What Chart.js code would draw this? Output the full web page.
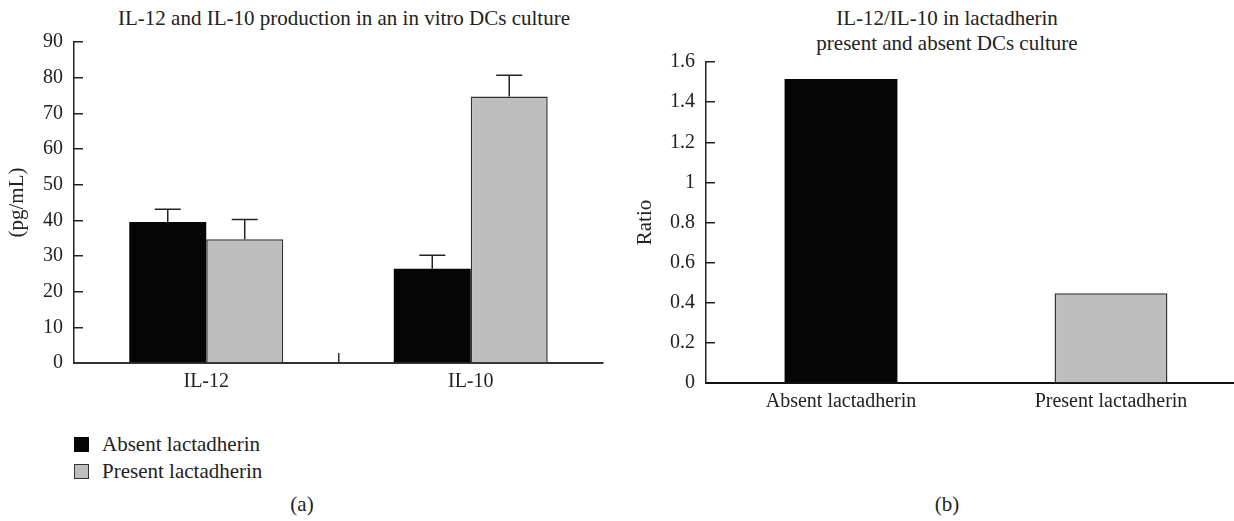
<!DOCTYPE html>
<html>
<head>
<meta charset="utf-8">
<title>IL-12 / IL-10 lactadherin</title>
<script src="https://cdn.jsdelivr.net/npm/chart.js@4"></script>
<style>
    html, body { margin: 0; padding: 0; background: #fff; overflow: hidden; }
    body { width: 1234px; height: 521px; position: relative; font-family: "Liberation Serif", serif; color: #222; }
    .panel { position: absolute; top: 0; height: 521px; overflow: hidden; }
    #panelA { left: 0; width: 620px; }
    #panelB { left: 620px; width: 614px; }
    canvas { position: absolute; left: 0; top: 0; }
    .txt { position: absolute; width: max-content; font-size: 21px; line-height: 25px; text-align: center; white-space: nowrap; transform: translateX(-50%); }
    .legend { position: absolute; left: 74px; top: 437px; font-size: 21px; }
    .legend .row { display: flex; align-items: center; height: 15px; margin-bottom: 12px; }
    .legend .box { width: 15px; height: 15px; box-sizing: border-box; margin-right: 13px; }
</style>
</head>
<body>
<div class="panel" id="panelA">
    <div class="txt" style="left:344px; top:6px;">IL-12 and IL-10 production in an in vitro DCs culture</div>
    <canvas id="chartA" width="620" height="400"></canvas>
    <div class="legend" id="legendA"></div>
    <div class="txt" style="left:302px; top:492px;">(a)</div>
</div>
<div class="panel" id="panelB">
    <div class="txt" style="left:327px; top:6px;">IL-12/IL-10 in lactadherin<br>present and absent DCs culture</div>
    <canvas id="chartB" width="626" height="420"></canvas>
    <div class="txt" style="left:327px; top:492px;">(b)</div>
</div>

<script>
// datos
const groups = ['IL-12', 'IL-10'];
const seriesNames = ['Absent lactadherin', 'Present lactadherin'];
const absentValues = [39.5, 26.4];
const presentValues = [34.7, 74.7];
const absentErrors = [3.6, 3.8];
const presentErrors = [5.5, 6.0];
const pgTicks = [0, 10, 20, 30, 40, 50, 60, 70, 80, 90];

const ratioLabels = ['Absent lactadherin', 'Present lactadherin'];
const ratioValues = [1.515, 0.447];
const ratioTicks = [0, 0.2, 0.4, 0.6, 0.8, 1, 1.2, 1.4, 1.6];

(function () {
    'use strict';

    const ink = '#222';
    const black = '#050505';
    const grey = '#bebebe';
    const seriesColors = [black, grey];

    Chart.defaults.font.family = '"Liberation Serif", serif';
    Chart.defaults.color = ink;

    // barras de error (solo la mitad superior)
    const errorBars = {
        id: 'errorBars',
        afterDatasetsDraw(chart) {
            const ctx = chart.ctx;
            const y = chart.scales.y;
            chart.data.datasets.forEach((ds, i) => {
                if (!ds.errors) return;
                chart.getDatasetMeta(i).data.forEach((bar, j) => {
                    const top = y.getPixelForValue(ds.data[j] + ds.errors[j]);
                    ctx.save();
                    ctx.strokeStyle = ink;
                    ctx.lineWidth = 1.5;
                    ctx.beginPath();
                    ctx.moveTo(bar.x, bar.y);
                    ctx.lineTo(bar.x, top);
                    ctx.moveTo(bar.x - 13, top);
                    ctx.lineTo(bar.x + 13, top);
                    ctx.stroke();
                    ctx.restore();
                });
            });
        }
    };

    const yAxis = (tickValues, max, width, title, titlePad) => ({
        min: 0,
        max: max,
        afterBuildTicks: s => { s.ticks = tickValues.map(v => ({ value: v })); },
        afterFit: s => { s.width = width; },
        border: { display: true, color: ink, width: 1.5 },
        grid: { drawOnChartArea: false, drawTicks: true, tickLength: -9, color: ink, lineWidth: 1.5 },
        ticks: { padding: 20, font: { size: 20 }, color: ink, callback: v => String(+Number(v).toFixed(1)) },
        title: { display: true, text: title, font: { size: 21 }, color: ink, padding: { top: titlePad, bottom: 0 } }
    });

    const base = {
        responsive: false,
        animation: false,
        plugins: { legend: { display: false }, title: { display: false }, tooltip: { enabled: false } }
    };

    // (a) barras agrupadas
    new Chart(document.getElementById('chartA'), {
        type: 'bar',
        data: {
            labels: groups,
            datasets: [
                { label: seriesNames[0], data: absentValues, errors: absentErrors, backgroundColor: black, borderWidth: 0 },
                { label: seriesNames[1], data: presentValues, errors: presentErrors, backgroundColor: grey, borderColor: '#333', borderWidth: 1.5 }
            ]
        },
        options: Object.assign({}, base, {
            layout: { padding: { top: 42, right: 17, bottom: 6, left: 0 } },
            datasets: { bar: { categoryPercentage: 0.582, barPercentage: 1 } },
            scales: {
                x: {
                    offset: true,
                    afterFit: s => { s.height = 31; },
                    border: { display: true, color: '#333', width: 2 },
                    grid: {
                        offset: true, drawOnChartArea: false, drawTicks: true, tickLength: -10, lineWidth: 1.5,
                        color: c => c.index === 1 ? '#333' : 'rgba(0,0,0,0)'
                    },
                    ticks: { padding: 17, font: { size: 20 }, color: ink }
                },
                y: yAxis(pgTicks, 90, 74, '(pg/mL)', 5)
            }
        }),
        plugins: [errorBars]
    });

    // (b) cociente IL-12/IL-10
    new Chart(document.getElementById('chartB'), {
        type: 'bar',
        data: {
            labels: ratioLabels,
            datasets: [{
                data: ratioValues,
                backgroundColor: seriesColors,
                borderColor: ['#050505', '#333'],
                borderWidth: [0, 1.5]
            }]
        },
        options: Object.assign({}, base, {
            layout: { padding: { top: 62, right: 0, bottom: 6, left: 0 } },
            datasets: { bar: { categoryPercentage: 0.418, barPercentage: 1 } },
            scales: {
                x: {
                    offset: true,
                    afterFit: s => { s.height = 31; },
                    border: { display: true, color: '#111', width: 2 },
                    grid: { display: false, drawTicks: false },
                    ticks: { padding: 7, font: { size: 20 }, color: ink }
                },
                y: yAxis(ratioTicks, 1.6, 86, 'Ratio', 13)
            }
        })
    });

    // leyenda en HTML
    const legend = document.getElementById('legendA');
    seriesNames.forEach((name, i) => {
        const row = document.createElement('div');
        row.className = 'row';
        const box = document.createElement('span');
        box.className = 'box';
        box.style.background = seriesColors[i];
        if (i === 1) box.style.border = '1px solid #333';
        const label = document.createElement('span');
        label.textContent = name;
        row.appendChild(box);
        row.appendChild(label);
        legend.appendChild(row);
    });
})();
</script>
</body>
</html>
